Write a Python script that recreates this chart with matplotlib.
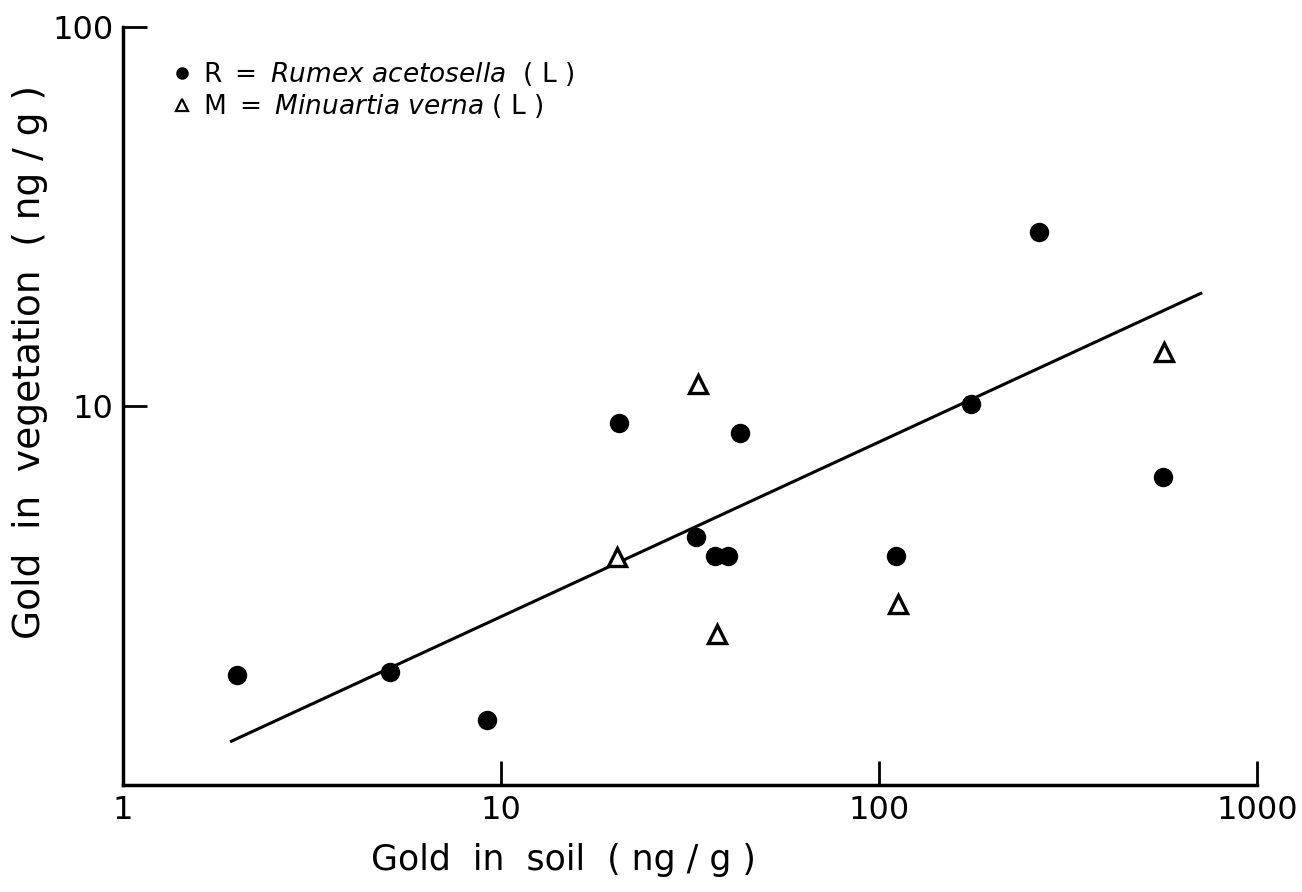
import matplotlib
matplotlib.use("Agg")
import matplotlib.pyplot as plt
from matplotlib.lines import Line2D

plt.rcParams['font.family'] = ['DejaVu Sans']
plt.rcParams['mathtext.fontset'] = 'dejavusans'

# Rumex acetosella (filled circles): gold in soil vs gold in vegetation, ng/g
rumex_soil = [2.0, 5.1, 9.2, 20.5, 32.8, 36.8, 39.8, 42.9, 111, 175, 265, 564]
rumex_veg = [1.95, 1.99, 1.48, 9.0, 4.5, 4.02, 4.02, 8.5, 4.02, 10.1, 28.8, 6.5]

# Minuartia verna (open triangles)
minuartia_soil = [20.3, 33.2, 37.3, 112, 568]
minuartia_veg = [4.0, 11.4, 2.5, 3.0, 13.9]

# fitted regression line endpoints
fit_soil = [1.92, 716]
fit_veg = [1.30, 19.9]

fig = plt.figure(figsize=(13.02, 8.92), dpi=100)
ax = fig.add_axes([123/1302, 1 - 785/892, (1257-123)/1302, (785-27)/892])

ax.plot(fit_soil, fit_veg, color='black', lw=2.2, solid_capstyle='butt')
ax.plot(rumex_soil, rumex_veg, 'o', color='black', ms=14, mew=0, zorder=3)
ax.plot(minuartia_soil, minuartia_veg, '^', mfc='white', mec='black',
        ms=13, mew=2.4, zorder=3)

ax.set_xscale('log')
ax.set_yscale('log')
ax.set_xlim(1, 1000)
ax.set_ylim(1, 100)
ax.set_xticks([1, 10, 100, 1000])
ax.set_xticklabels(['1', '10', '100', '1000'])
ax.set_yticks([10, 100])
ax.set_yticklabels(['10', '100'])
ax.minorticks_off()
ax.tick_params(direction='in', length=17, width=2, labelsize=23, pad=7)

for side in ['top', 'right']:
    ax.spines[side].set_visible(False)
for side in ['left', 'bottom']:
    ax.spines[side].set_linewidth(2.5)

fig.text(563/1302, 1 - 860/892, 'Gold  in  soil  ( ng / g )', fontsize=25,
         ha='center', va='center')
fig.text(30/1302, 1 - 362/892, 'Gold  in  vegetation  ( ng / g )', fontsize=27,
         ha='center', va='center', rotation=90)

handles = [
    Line2D([], [], ls='', marker='o', color='black', ms=9, mew=0),
    Line2D([], [], ls='', marker='^', mfc='white', mec='black', ms=8, mew=1.6),
]
labels = [r'R $=$ $\it{Rumex\ acetosella}$  ( L )',
          r'M $=$ $\it{Minuartia\ verna}$ ( L )']
ax.legend(handles, labels, loc='upper left', frameon=False, fontsize=19,
          handlelength=0.6, handletextpad=0.5, labelspacing=0.15,
          bbox_to_anchor=(174/1302, 1 - 60/892), bbox_transform=fig.transFigure,
          borderpad=0, borderaxespad=0)

fig.savefig('out.png', dpi=100)
